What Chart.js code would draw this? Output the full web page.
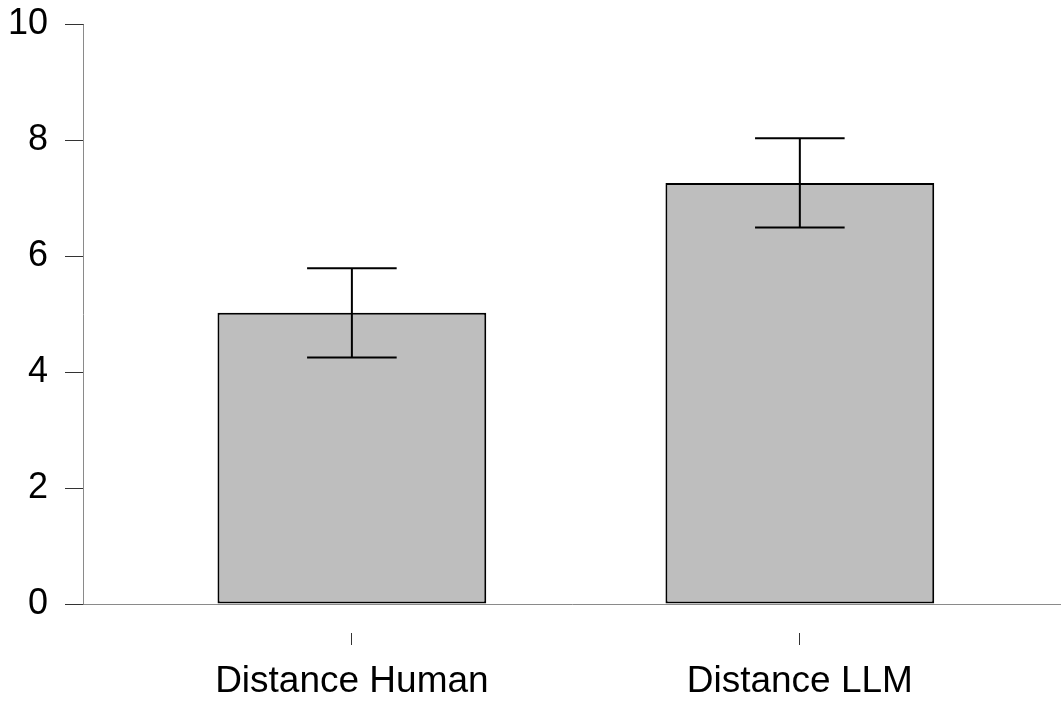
<!DOCTYPE html>
<html>
<head>
<meta charset="utf-8">
<title>Distance chart</title>
<script src="https://cdn.jsdelivr.net/npm/chart.js@4.4.1/dist/chart.umd.min.js"></script>
<style>
  html, body { margin: 0; padding: 0; background: #fff; }
  canvas { display: block; }
</style>
</head>
<body>
<canvas id="chart" width="1061" height="702"></canvas>
<script>
// ── Data ──
const categories = ["Distance Human", "Distance LLM"];
const means      = [5.02, 7.26];
const errors     = [0.77, 0.77];
const yTicks     = [0, 2, 4, 6, 8, 10];

// ── Error bars + axis lines (R base-graphics look) ──
const errorBars = {
  id: "errorBars",
  afterDatasetsDraw(chart) {
    const ctx  = chart.ctx;
    const y    = chart.scales.y;
    const meta = chart.getDatasetMeta(0);
    ctx.save();
    ctx.strokeStyle = "#000";
    ctx.lineWidth   = 2;
    meta.data.forEach((bar, i) => {
      const half = bar.width / 6;
      const hi   = y.getPixelForValue(means[i] + errors[i]);
      const lo   = y.getPixelForValue(means[i] - errors[i]);
      ctx.beginPath();
      ctx.moveTo(bar.x, hi); ctx.lineTo(bar.x, lo);
      ctx.moveTo(bar.x - half, hi); ctx.lineTo(bar.x + half, hi);
      ctx.moveTo(bar.x - half, lo); ctx.lineTo(bar.x + half, lo);
      ctx.stroke();
    });
    ctx.restore();
  }
};

const axisLines = {
  id: "axisLines",
  beforeDatasetsDraw(chart) {
    const ctx  = chart.ctx;
    const y    = chart.scales.y;
    const area = chart.chartArea;
    const y0   = Math.round(y.getPixelForValue(0)) + 0.5;
    const yTop = Math.round(y.getPixelForValue(10)) + 0.5;
    const x0   = Math.round(area.left) - 0.5;
    ctx.save();
    ctx.strokeStyle = "#8a8a8a";
    ctx.lineWidth   = 1;
    ctx.beginPath();
    ctx.moveTo(x0, yTop); ctx.lineTo(x0, y0);
    ctx.moveTo(x0, y0);   ctx.lineTo(area.right, y0);
    ctx.stroke();
    ctx.restore();
  }
};

new Chart(document.getElementById("chart"), {
  type: "bar",
  data: {
    datasets: [{
      data: means.map((m, i) => ({ x: i + 1, y: m })),
      backgroundColor: "#bebebe",
      borderColor: "#000",
      borderWidth: 2,
      borderSkipped: false,
      barPercentage: 0.6,
      categoryPercentage: 1,
    }],
  },
  options: {
    responsive: false,
    animation: false,
    layout: { padding: 0 },
    plugins: { legend: { display: false }, tooltip: { enabled: false } },
    scales: {
      x: {
        type: "linear",
        offset: false,
        min: 0.402,
        max: 2.583,
        afterBuildTicks: s => { s.ticks = categories.map((c, i) => ({ value: i + 1 })); },
        afterFit: s => { s.height = 69; s.paddingLeft = 0; s.paddingRight = 0; },
        grid: { offset: false, drawOnChartArea: false, tickLength: 12, color: "#333" },
        border: { display: false },
        ticks: {
          padding: 15,
          color: "#000",
          font: { family: "'Liberation Sans', Arial, sans-serif", size: 37 },
          callback: v => categories[v - 1],
        },
      },
      y: {
        min: -0.5,
        max: 10,
        afterBuildTicks: s => { s.ticks = yTicks.map(v => ({ value: v })); },
        afterFit: s => { s.width = 84; s.paddingTop = 24; s.paddingBottom = 0; },
        grid: { drawOnChartArea: false, tickLength: 19, color: "#333" },
        border: { display: false },
        ticks: {
          padding: 17,
          color: "#000",
          font: { family: "'Liberation Sans', Arial, sans-serif", size: 36 },
        },
      },
    },
  },
  plugins: [axisLines, errorBars],
});
</script>
</body>
</html>
